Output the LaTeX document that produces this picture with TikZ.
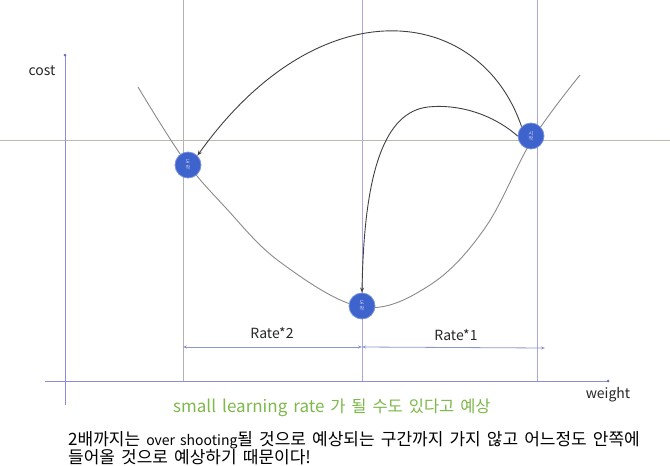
\documentclass[tikz,border=0pt]{standalone}
\usepackage{fontspec}
\setmainfont{Noto Sans CJK KR}
\newfontfamily\krwide{Noto Sans CJK KR}[WordSpace=1.6]
\usetikzlibrary{arrows.meta}
\definecolor{axisc}{HTML}{8C8CDC}
\definecolor{guidec}{HTML}{A8A8E0}
\definecolor{hguide}{HTML}{B8BCA8}
\definecolor{curvec}{HTML}{8A8A8A}
\definecolor{ballc}{HTML}{3F63CC}
\definecolor{greent}{HTML}{7DB84A}
\definecolor{dimc}{HTML}{8C96C8}
\newcommand{\latb}[1]{{\fontsize{14}{15}\selectfont #1}}
\newcommand{\latg}[1]{{\fontsize{17}{18}\selectfont #1}}
\tikzset{
  axisline/.style={draw=axisc, line width=0.9pt},
  guide/.style={draw=guidec, line width=0.8pt},
  costcurve/.style={draw=curvec, line width=0.9pt},
  jump/.style={draw=black!75, line width=0.9pt, -{Stealth[length=5pt,width=4pt]}},
  ball/.style={circle, fill=ballc, draw=ballc!70!white, line width=0.8pt, minimum size=26pt, inner sep=0pt, text=white!80!ballc, font=\fontsize{5}{5.5}\selectfont, align=center},
  dimline/.style={draw=dimc, line width=0.8pt, {Stealth[length=4pt,width=3pt]}-{Stealth[length=4pt,width=3pt]}},
  lbl/.style={font=\fontsize{14}{16}\selectfont, text=black!85},
}
\begin{document}
\begin{tikzpicture}[x=1pt,y=-1pt]
\useasboundingbox (0,0) rectangle (670,466);
% guide lines
\draw[guide, draw=black!30] (183,0) -- (183,381);
\draw[guide] (362,0) -- (362,381);
\draw[guide] (537,0) -- (537,381);
\draw[draw=hguide, line width=0.8pt] (0,140) -- (670,140);
% axes
\coordinate (ytop) at (65,55);
\coordinate (ybot) at (65,405);
\coordinate (xl) at (45,381);
\coordinate (xr) at (608,381);
\draw[axisline] (ybot) -- (ytop);
\fill[axisc!80!black] (ytop) circle (1.5);
\draw[axisline] (xl) -- (xr);
\fill[axisc!80!black] (xr) circle (1.5);
\node[lbl] (cost) at (42,71) {cost};
\node[lbl] (weight) at (608,395) {weight};
% cost curve
\draw[costcurve] plot[smooth, tension=0.6] coordinates {(138,87) (183,158) (225,207) (280,262) (362,307) (430,285) (485,228) (532,140) (580,75)};
% balls
\node[ball] (left) at (188,165) {도\\착};
\node[ball] (mid) at (362,306) {도\\착};
\node[ball] (right) at (531,136) {시\\작};
% jumps
\draw[jump] (right.north west) .. controls (480,5) and (320,-16) .. (left.north east);
\draw[jump] (right.west) .. controls (490,112) and (455,104) .. (428,107) .. controls (385,112) and (364,170) .. (mid.north);
% dimension arrows
\coordinate (d1) at (183,347);
\coordinate (d2) at (362,347);
\coordinate (d3) at (545,348);
\draw[dimline] (d1) -- (d2);
\draw[dimline] (d2) -- (d3);
\node[lbl] (r2) at (272,333) {Rate*2};
\node[lbl] (r1) at (456,335) {Rate*1};
% texts
\node[font=\krwide\fontsize{16.5}{18}\selectfont, text=greent, anchor=west, inner sep=0pt] (note) at (173,408) {\latg{small learning rate} 가 될 수도 있다고 예상};
\node[font=\krwide\fontsize{17}{17}\selectfont, anchor=north west, align=left, inner sep=0pt] (expl) at (68,431) {2배까지는 \latb{over shooting}될 것으로 예상되는 구간까지 가지 않고 어느정도 안쪽에\\들어올 것으로 예상하기 때문이다!};
\end{tikzpicture}
\end{document}
